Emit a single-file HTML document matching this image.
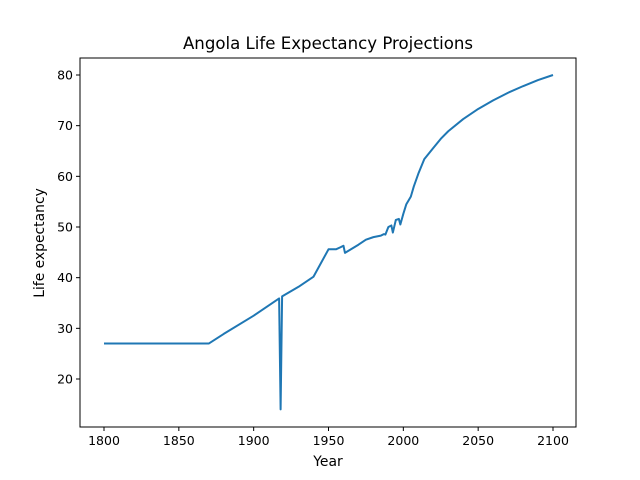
<!DOCTYPE html>
<html><head><meta charset="utf-8"><style>body{margin:0;background:#fff}svg{display:block;font-family:"DejaVu Sans","Liberation Sans",sans-serif}</style></head>
<body>
<svg id="chart" width="640" height="480"></svg>
<script>
const years=[1800,1870,1880,1900,1917,1918,1919,1930,1940,1950,1955,1958,1960,1961,1970,1975,1980,1985,1987,1988,1990,1992,1993,1995,1997,1998,2000,2002,2005,2007,2010,2014,2020,2025,2030,2040,2050,2060,2070,2080,2090,2100];
const lifeExp=[27,27,28.9,32.5,35.9,14,36.3,38.2,40.2,45.6,45.6,46,46.3,44.9,46.5,47.5,48,48.3,48.6,48.5,50,50.3,48.9,51.4,51.6,50.5,52.6,54.5,56,58,60.5,63.4,65.6,67.4,68.9,71.3,73.3,75,76.5,77.8,79,80];
const xTicks=[1800,1850,1900,1950,2000,2050,2100];
const yTicks=[20,30,40,50,60,70,80];
const svg=document.getElementById('chart');const NS='http://www.w3.org/2000/svg';
const L=80,R=576,T=58,B=427;
const xs=v=>104+(v-1800)*(553-104)/300;
const ys=v=>75+(80-v)*(379-75)/60;
function mk(t,a,txt){const e=document.createElementNS(NS,t);for(const k in a)e.setAttribute(k,a[k]);if(txt!==undefined)e.textContent=txt;svg.appendChild(e);return e;}
let e=mk('polyline',{points:years.map((y,i)=>xs(y)+','+ys(lifeExp[i])).join(' '),fill:'none',stroke:'#1f77b4','stroke-width':2,'stroke-linejoin':'round'});


e=mk('rect',{x:L,y:T,width:R-L,height:B-T,fill:'none',stroke:'#000','stroke-width':1});


xTicks.forEach(t=>{const x=xs(t);mk('line',{x1:x,x2:x,y1:B,y2:B+4,stroke:'#000'});
e=mk('text',{x:x,y:B+18,'font-size':12.5,'text-anchor':'middle'},t);

});
yTicks.forEach(t=>{const y=ys(t);mk('line',{x1:L-4,x2:L,y1:y,y2:y,stroke:'#000'});
e=mk('text',{x:L-7,y:y+4.5,'font-size':12.5,'text-anchor':'end'},t);

});
e=mk('text',{x:328,y:49,'font-size':16.6,'text-anchor':'middle'},'Angola Life Expectancy Projections');


e=mk('text',{x:328,y:466,'font-size':13.9,'text-anchor':'middle'},'Year');


e=mk('text',{x:44,y:243,'font-size':13.9,'text-anchor':'middle',transform:'rotate(-90 44 243)'},'Life expectancy');


</script>
</body></html>
